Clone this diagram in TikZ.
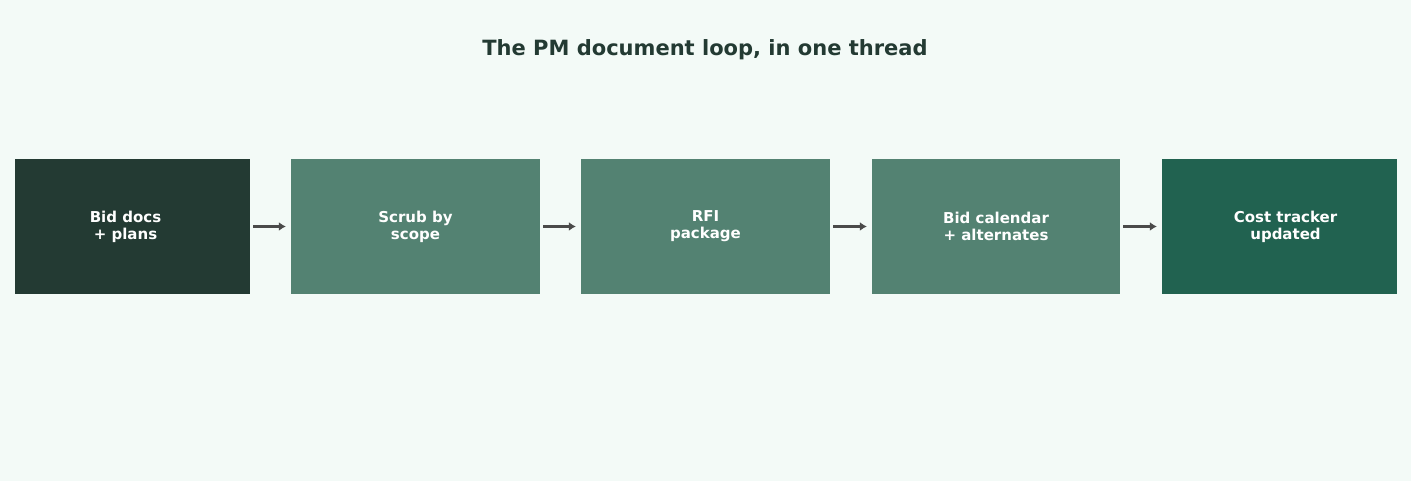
\documentclass[tikz,border=0pt]{standalone}
\usepackage{fontspec}
\setmainfont{DejaVu Sans}
\usetikzlibrary{arrows.meta}
\definecolor{bg}{HTML}{F3FAF7}
\definecolor{dark}{HTML}{233A33}
\definecolor{mid}{HTML}{538272}
\definecolor{deep}{HTML}{216250}
\definecolor{arr}{HTML}{4A4A4A}
\begin{document}
\begin{tikzpicture}[x=1pt,y=1pt,
  box/.style={draw=none,minimum height=135pt,inner sep=0pt,text=white,font=\fontsize{15}{17}\selectfont\bfseries,align=center},
  conn/.style={draw=arr,line width=3pt,-{Latex[length=7pt,width=9pt]}}]
\fill[bg] (0,0) rectangle (1411,481);
\useasboundingbox (0,0) rectangle (1411,481);
\node[font=\fontsize{21}{24}\selectfont\bfseries,text=dark] (t) at (705,431) {The PM document loop, in one thread};
\node[box,fill=dark,minimum width=235pt] (a) at (132.5,254.5) {\hspace*{-14pt}Bid docs\\\hspace*{-14pt}+ plans};
\node[box,fill=mid,minimum width=249pt] (b) at (415.5,254.5) {Scrub by\\scope};
\node[box,fill=mid,minimum width=249pt] (c) at (705.5,254.5) {RFI\\package};
\node[box,fill=mid,minimum width=248pt] (d) at (996,254.5) {Bid calendar\\+ alternates};
\node[box,fill=deep,minimum width=235pt] (e) at (1279.5,254.5) {\hspace*{12pt}Cost tracker\\\hspace*{12pt}updated};
\draw[conn] ([xshift=3pt]a.east) -- ([xshift=-5pt]b.west);
\draw[conn] ([xshift=3pt]b.east) -- ([xshift=-5pt]c.west);
\draw[conn] ([xshift=3pt]c.east) -- ([xshift=-5pt]d.west);
\draw[conn] ([xshift=3pt]d.east) -- ([xshift=-5pt]e.west);
\end{tikzpicture}
\end{document}
